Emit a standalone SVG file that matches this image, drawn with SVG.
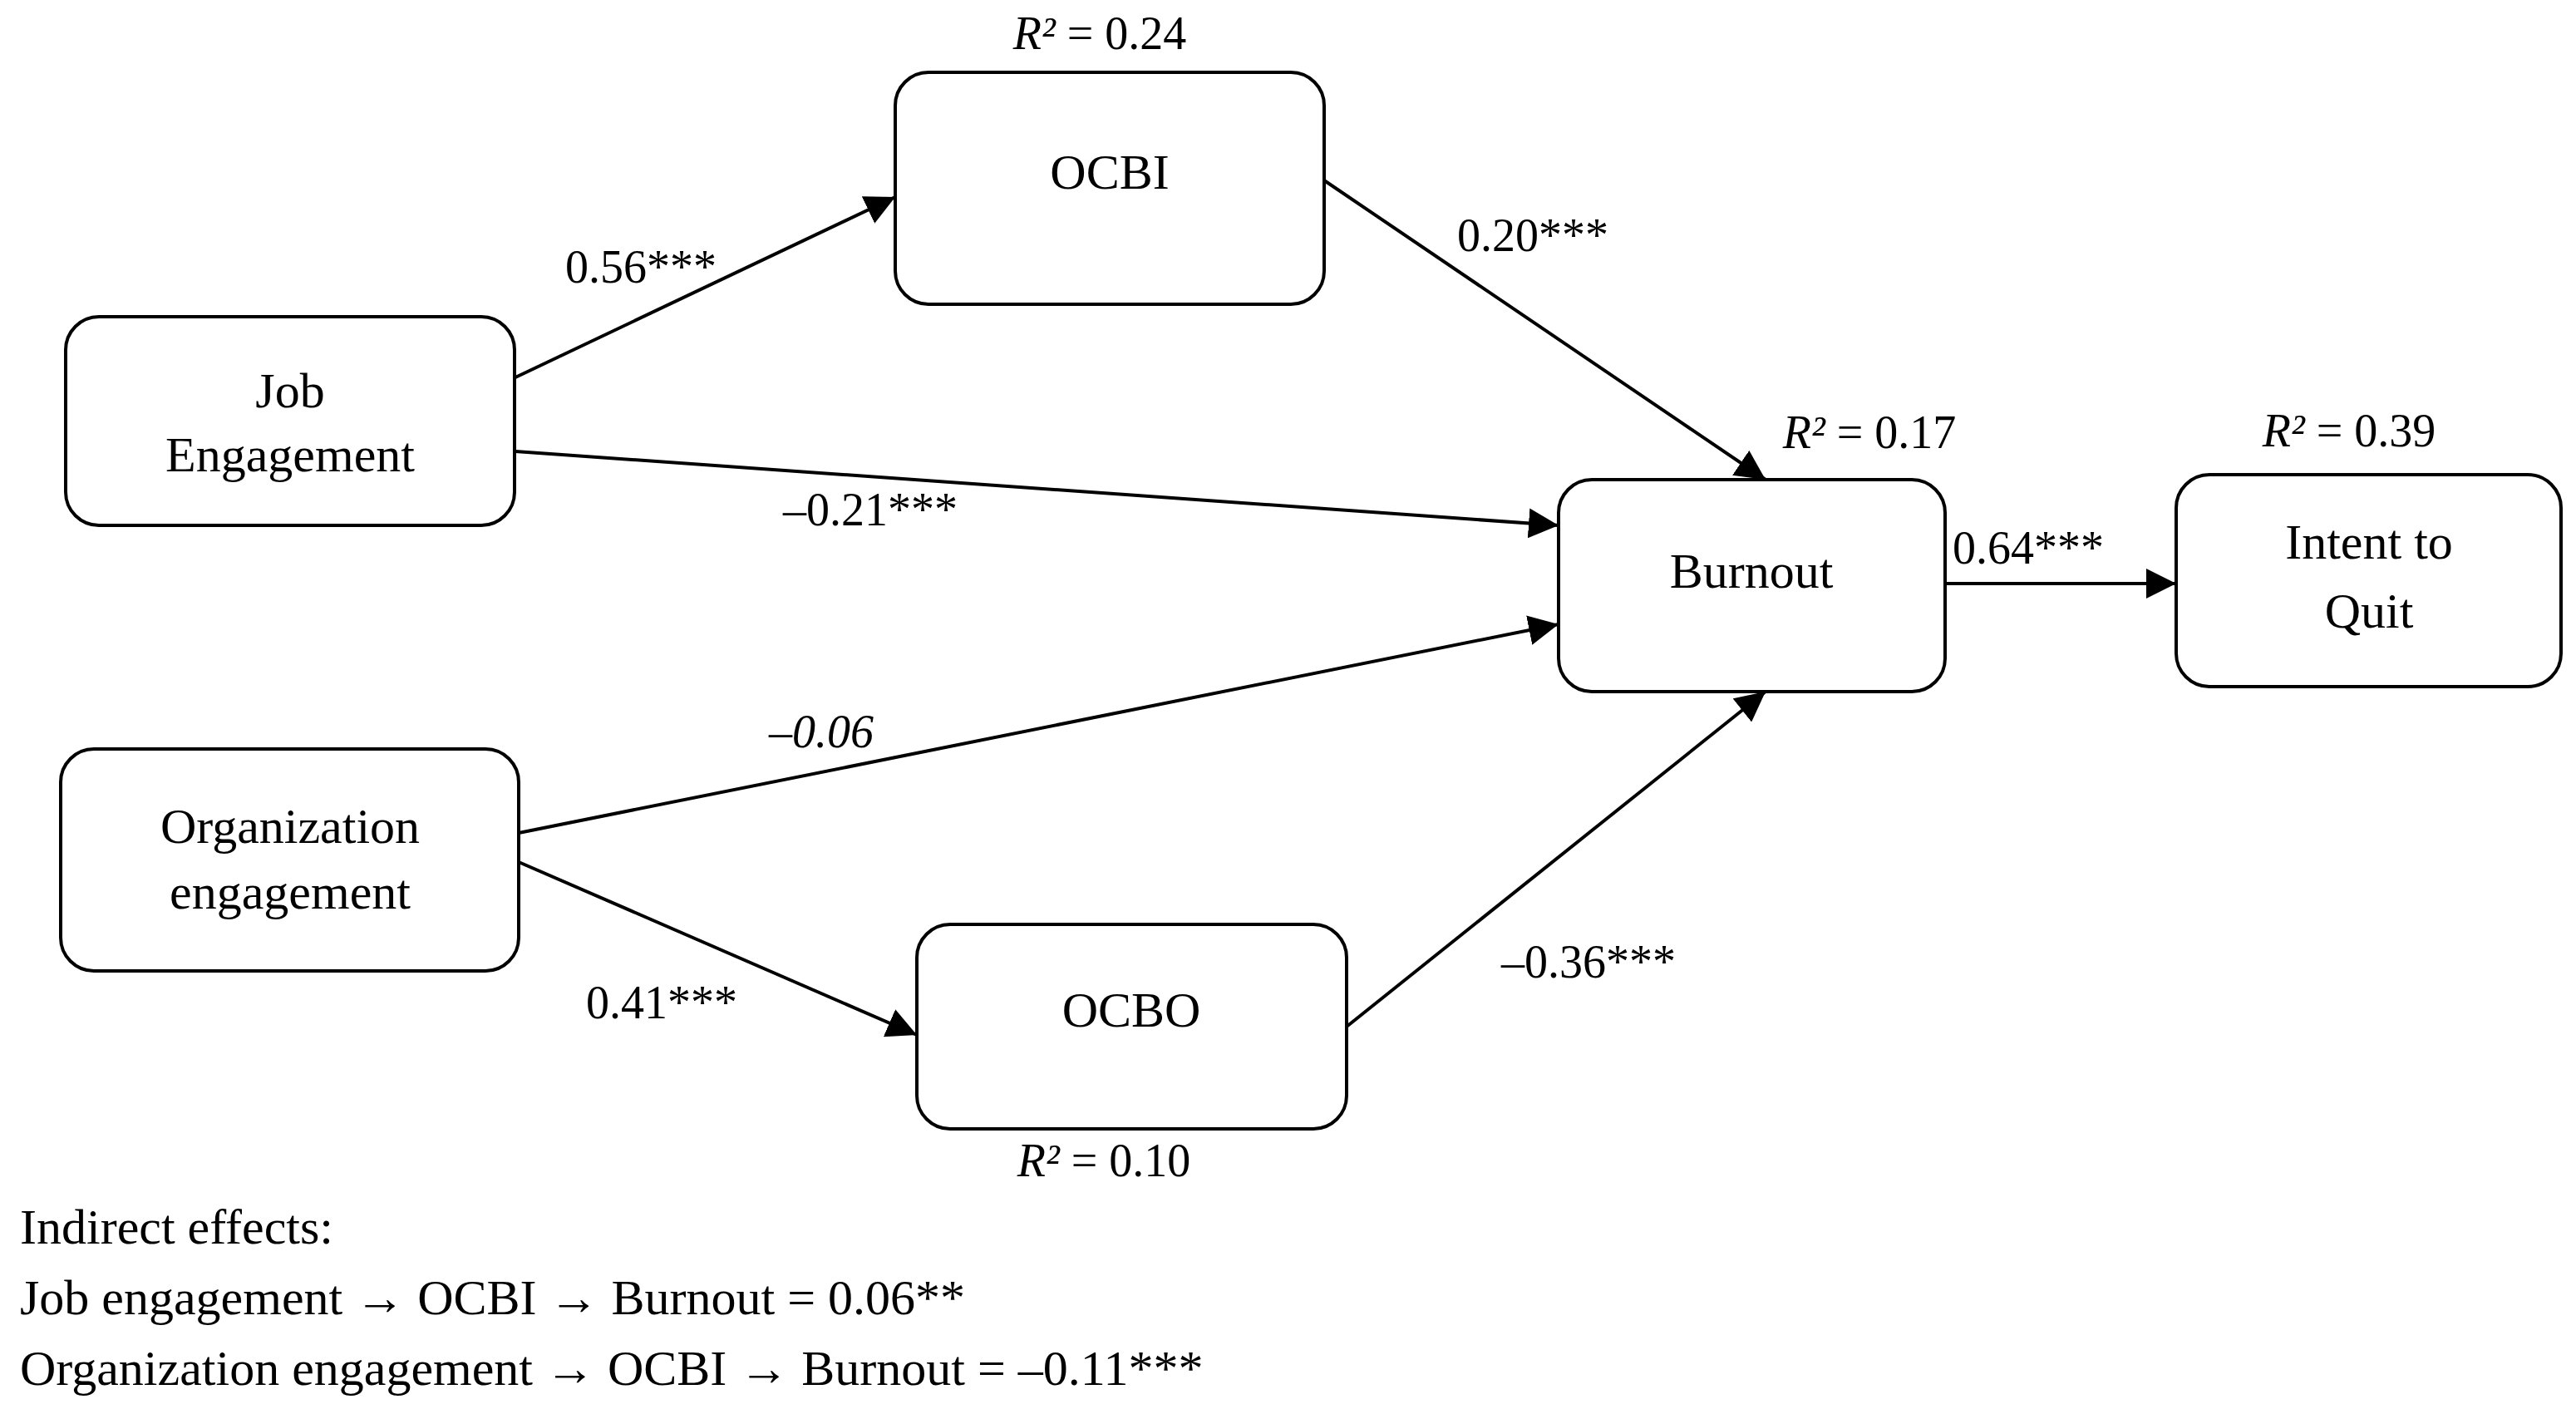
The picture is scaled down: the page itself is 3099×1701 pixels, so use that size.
<svg xmlns="http://www.w3.org/2000/svg" width="3099" height="1701" viewBox="0 0 3099 1701">
<style>
.n{fill:#fff;stroke:#000;stroke-width:4}
text{font-family:"Liberation Serif","Times New Roman",serif;fill:#000}
.t{font-size:60px;text-anchor:middle}
.l{font-size:56px;text-anchor:middle}
.c{stroke:#000;stroke-width:4;fill:none;marker-end:url(#a)}
.f{font-size:60px}
</style>
<defs><marker id="a" viewBox="0 0 10 10" refX="10" refY="5" markerWidth="9" markerHeight="9" markerUnits="userSpaceOnUse" orient="auto"><path d="M0,0L10,5L0,10z" fill="#000"/></marker>
<marker id="b" viewBox="0 0 10 10" refX="10" refY="5" markerWidth="9" markerHeight="9" orient="auto"><path d="M0,0L10,5L0,10z"/></marker></defs>
<rect width="3099" height="1701" fill="#fff"/>
<g id="connectors">
<line class="c" x1="620" y1="454" x2="1077" y2="237" style="marker-end:url(#b)"/>
<line class="c" x1="620" y1="543" x2="1875" y2="632" style="marker-end:url(#b)"/>
<line class="c" x1="624" y1="1002" x2="1875" y2="751" style="marker-end:url(#b)"/>
<line class="c" x1="624" y1="1037" x2="1103" y2="1245" style="marker-end:url(#b)"/>
<line class="c" x1="1593" y1="217" x2="2124" y2="577" style="marker-end:url(#b)"/>
<line class="c" x1="1620" y1="1235" x2="2124" y2="832" style="marker-end:url(#b)"/>
<line class="c" x1="2340" y1="702" x2="2618" y2="702" style="marker-end:url(#b)"/>
</g>
<g id="labels">
<text class="l" x="1323" y="59"><tspan font-style="italic">R²</tspan> = 0.24</text>
<text class="l" x="771" y="340">0.56***</text>
<text class="l" x="1844" y="302">0.20***</text>
<text class="l" x="2249" y="539"><tspan font-style="italic">R²</tspan> = 0.17</text>
<text class="l" x="2826" y="537"><tspan font-style="italic">R²</tspan> = 0.39</text>
<text class="l" x="1047" y="632">–0.21***</text>
<text class="l" x="2440" y="678">0.64***</text>
<text class="l" x="988" y="899" font-style="italic">–0.06</text>
<text class="l" x="796" y="1225">0.41***</text>
<text class="l" x="1911" y="1176">–0.36***</text>
<text class="l" x="1328" y="1415"><tspan font-style="italic">R²</tspan> = 0.10</text>
</g>
<g id="ocbi"><rect class="n" x="1077" y="87" width="516" height="279" rx="40"/><text class="t" x="1335" y="227">OCBI</text></g>
<g id="job"><rect class="n" x="79" y="381" width="540" height="251" rx="40"/><text class="t" x="349" y="490">Job</text><text class="t" x="349" y="567">Engagement</text></g>
<g id="org"><rect class="n" x="73" y="901" width="551" height="267" rx="40"/><text class="t" x="349" y="1014">Organization</text><text class="t" x="349" y="1093">engagement</text></g>
<g id="ocbo"><rect class="n" x="1103" y="1112" width="517" height="246" rx="40"/><text class="t" x="1361" y="1235">OCBO</text></g>
<g id="burnout"><rect class="n" x="1875" y="577" width="465" height="255" rx="40"/><text class="t" x="2107" y="707">Burnout</text></g>
<g id="intent"><rect class="n" x="2618" y="571" width="463" height="255" rx="40"/><text class="t" x="2850" y="672">Intent to</text><text class="t" x="2850" y="755">Quit</text></g>
<g id="indirect">
<text class="f" x="24" y="1496">Indirect effects:</text>
<text class="f" x="24" y="1581">Job engagement → OCBI → Burnout = 0.06**</text>
<text class="f" x="24" y="1666">Organization engagement → OCBI → Burnout = –0.11***</text>
</g>
</svg>
